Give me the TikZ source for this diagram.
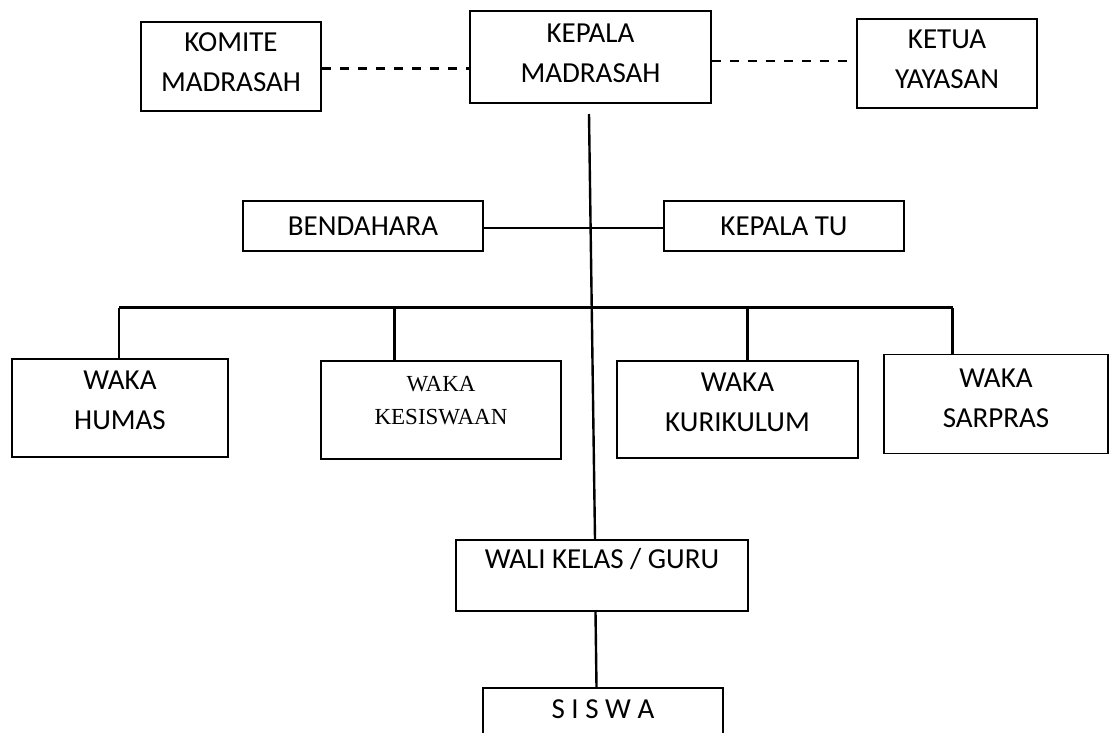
\documentclass[tikz,border=0pt]{standalone}
\usepackage{fontspec}
\setmainfont{Carlito}
\newfontfamily\serifbox{Liberation Serif}
\usepackage{tikz}
\usetikzlibrary{positioning}
\tikzset{
	orgbox/.style={rectangle, draw=black, line width=1.8pt, align=center, inner sep=0pt, font=\fontsize{29}{40}\selectfont},
	orgline/.style={draw=black, line width=2.4pt},
	mydashed/.style = {line width=2.4pt, dash pattern=on 9pt off 9pt}
}

\begin{document}
\begin{tikzpicture}[x=1pt, y=-1pt]
		\clip (0,0) rectangle (1109,732);
		\useasboundingbox (0,0) rectangle (1109,732);
		\node[orgbox, minimum width=180pt, minimum height=89pt] at (231,66.5) (komite) {KOMITE\\MADRASAH\\[-32pt]\mbox{}};
		\node[orgbox, minimum width=241pt, minimum height=92pt] at (590.5,57) (kepala) {KEPALA\\MADRASAH\\[-32pt]\mbox{}};
		\node[orgbox, minimum width=180pt, minimum height=89pt] at (947,63.5) (ketua) {KETUA\\YAYASAN\\[-32pt]\mbox{}};
		
		\node[orgbox, minimum width=240pt, minimum height=50pt] at (363,226) (bendahara) {BENDAHARA};
		\node[orgbox, minimum width=240pt, minimum height=50pt] at (784,226) (kepalatu) {KEPALA TU};
		
		\node[orgbox, minimum width=216pt, minimum height=98pt] at (120,408) (humas) {WAKA\\HUMAS\\[-24pt]\mbox{}};
		\node[orgbox, minimum width=240pt, minimum height=98pt, font=\serifbox\fontsize{23}{33}\selectfont] at (441,410) (kesiswaan) {WAKA\\KESISWAAN\\[-14pt]\mbox{}};
		\node[orgbox, minimum width=241pt, minimum height=97pt] at (737.5,409.5) (kurikulum) {WAKA\\KURIKULUM\\[-26pt]\mbox{}};
		\node[orgbox, minimum width=224pt, minimum height=99pt] at (996,404) (sarpras) {WAKA\\SARPRAS\\[-28pt]\mbox{}};
		
		\node[orgbox, minimum width=292pt, minimum height=71pt] at (602,575.5) (wali) {WALI KELAS / GURU\\[-6pt]\mbox{}};
		\node[orgbox, minimum width=240pt, minimum height=70pt] at (603,723) (siswa) {S I S W A\\[-12pt]\mbox{}};
		
		\coordinate (kmtop) at (589,114);
		\coordinate (busL) at (119,307.5);
		\coordinate (busR) at (952.5,307.5);
		\coordinate (bus2) at (394.5,307.5);
		\coordinate (bus3) at (747.5,307.5);
		%Lines
		\draw[mydashed] ([yshift=-2pt]komite.east) -- ([yshift=-2pt]komite.east -| kepala.west);
		\draw[mydashed] ([yshift=-4pt]kepala.east) -- ([yshift=-4pt]kepala.east -| ketua.west);
		\draw[orgline] ([yshift=-2pt]bendahara.east) -- ([yshift=-2pt]kepalatu.west);
		\draw[orgline] (kmtop) -- ([xshift=-7pt]wali.north);
		\draw[orgline] (busL) -- (busR);
		\draw[orgline] (busL) -- (busL |- humas.north);
		\draw[orgline] (bus2) -- (bus2 |- kesiswaan.north);
		\draw[orgline] (bus3) -- (bus3 |- kurikulum.north);
		\draw[orgline] (busR) -- (busR |- sarpras.north);
		\draw[orgline] ([xshift=-6.5pt]wali.south) -- ([xshift=-6.5pt]siswa.north);
	\end{tikzpicture}
\end{document}
